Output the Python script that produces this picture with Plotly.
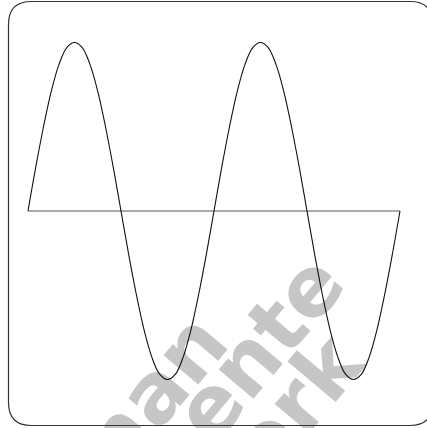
import plotly.graph_objects as go

# Phase (degrees) and amplitude (two full periods)
phase_deg = [0, 15, 30, 45, 60, 75, 90, 105, 120, 135, 150, 165, 180,
             195, 210, 225, 240, 255, 270, 285, 300, 315, 330, 345, 360,
             375, 390, 405, 420, 435, 450, 465, 480, 495, 510, 525, 540,
             555, 570, 585, 600, 615, 630, 645, 660, 675, 690, 705, 720]
amplitude = [0.0, 0.26, 0.5, 0.71, 0.87, 0.97, 1.0, 0.97, 0.87, 0.71, 0.5, 0.26, 0.0,
             -0.26, -0.5, -0.71, -0.87, -0.97, -1.0, -0.97, -0.87, -0.71, -0.5, -0.26, 0.0,
             0.26, 0.5, 0.71, 0.87, 0.97, 1.0, 0.97, 0.87, 0.71, 0.5, 0.26, 0.0,
             -0.26, -0.5, -0.71, -0.87, -0.97, -1.0, -0.97, -0.87, -0.71, -0.5, -0.26, 0.0]
baseline_x = [0, 720]
baseline_y = [0, 0]
watermark_texts = ["man", "ente", "erk"]

W, H = 427, 428

fig = go.Figure()
fig.add_trace(go.Scatter(x=baseline_x, y=baseline_y, mode="lines",
                         line=dict(color="#555555", width=1.2),
                         hoverinfo="skip", showlegend=False))
fig.add_trace(go.Scatter(x=phase_deg, y=amplitude, mode="lines",
                         line=dict(color="#111111", width=1.1, shape="spline", smoothing=1),
                         hoverinfo="skip", showlegend=False))

def px(x):
    return x / W

def py(y):
    return 1 - y / H

# Rounded border rectangle
x0, x1, yt, yb, r = px(8.5), px(433), py(1.5), py(425.5), 23
rx, ry = r / W, r / H
path = (f"M {x0+rx},{yt} L {x1-rx},{yt} Q {x1},{yt} {x1},{yt-ry} "
        f"L {x1},{yb+ry} Q {x1},{yb} {x1-rx},{yb} "
        f"L {x0+rx},{yb} Q {x0},{yb} {x0},{yb+ry} "
        f"L {x0},{yt-ry} Q {x0},{yt} {x0+rx},{yt} Z")
shapes = [dict(type="path", xref="paper", yref="paper", path=path,
               line=dict(color="#333333", width=1.2), layer="above")]

# Watermark fragments, drawn beneath the curve
wm_centers = [(140.6, 399.6), (254.4, 344.1), (291.4, 401.1)]
for t, (cx, cy) in zip(watermark_texts, wm_centers):
    shapes.append(dict(type="rect", xref="paper", yref="paper",
                       x0=px(cx - 1), x1=px(cx + 1), y0=py(cy + 1), y1=py(cy - 1),
                       line=dict(width=0), fillcolor="rgba(0,0,0,0)", layer="below",
                       label=dict(text=f"<b>{t}</b>", textangle=-50, textposition="middle center",
                                  xanchor="center", yanchor="middle",
                                  font=dict(size=83, color="#c6c6c6", family="DejaVu Sans"))))

fig.update_layout(
    width=W, height=H,
    margin=dict(l=0, r=0, t=0, b=0),
    paper_bgcolor="white", plot_bgcolor="rgba(0,0,0,0)",
    xaxis=dict(visible=False, range=[-28 * 720 / 372, (W - 28) * 720 / 372], fixedrange=True),
    yaxis=dict(visible=False, range=[-(H - 211) / 168.5, 211 / 168.5], fixedrange=True),
    shapes=shapes,
    showlegend=False,
)

fig.write_html("out.html", config={"displayModeBar": False},
               post_script="document.body.style.margin='0';document.body.style.overflow='hidden';")
